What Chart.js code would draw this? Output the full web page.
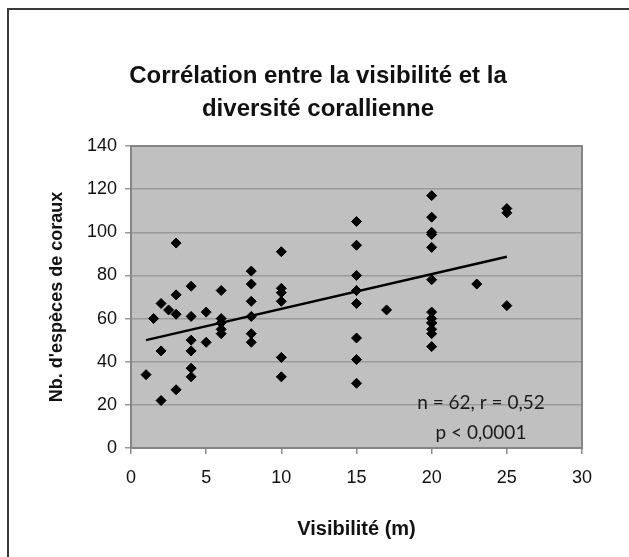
<!DOCTYPE html>
<html>
<head>
<meta charset="utf-8">
<script src="https://cdn.jsdelivr.net/npm/chart.js@4.4.1/dist/chart.umd.min.js"></script>
<style>
html, body { margin: 0; padding: 0; background: #fff; overflow: hidden; }
#wrap { position: relative; width: 629px; height: 557px; }
#frame { position: absolute; left: 7px; top: 8px; width: 700px; height: 700px; border: 2px solid #3a3a3a; }
canvas { position: absolute; left: 0; top: 0; }
</style>
</head>
<body>
<div id="wrap">
  <div id="frame"></div>
  <canvas id="coraux" width="629" height="557"></canvas>
</div>
<script>
// visibilité (m) et nombre d'espèces de coraux par site
const visibility = [
  1, 1.5, 2, 2, 2, 2.5, 3, 3, 3, 3,
  4, 4, 4, 4, 4, 4, 5, 5,
  6, 6, 6, 6, 6,
  8, 8, 8, 8, 8, 8,
  10, 10, 10, 10, 10, 10,
  15, 15, 15, 15, 15, 15, 15, 15, 15,
  17,
  20, 20, 20, 20, 20, 20, 20, 20, 20, 20, 20, 20, 20,
  23,
  25, 25, 25
];
const species = [
  34, 60, 67, 45, 22, 64, 95, 71, 62, 27,
  75, 61, 50, 45, 37, 33, 63, 49,
  73, 60, 58, 55, 53,
  82, 76, 68, 61, 53, 49,
  91, 74, 72, 68, 42, 33,
  105, 94, 80, 73, 73, 67, 51, 41, 30,
  64,
  117, 107, 100, 99, 93, 78, 63, 60, 58, 58, 55, 53, 47,
  76,
  111, 109, 66
];

// droite de tendance
const trendX = [1, 25];
const trendY = [50, 88.7];

const xTicks = [0, 5, 10, 15, 20, 25, 30];
const yTicks = [0, 20, 40, 60, 80, 100, 120, 140];

const statsText = ['n = 62, r = 0,52', 'p < 0,0001'];

const points = visibility.map((v, i) => ({ x: v, y: species[i] }));
const trend = trendX.map((v, i) => ({ x: v, y: trendY[i] }));

const arial = '"Liberation Sans", Arial, sans-serif';

// fond gris et cadre de la zone de tracé
const plotArea = {
  id: 'plotArea',
  beforeDraw(chart) {
    const { ctx, chartArea: a } = chart;
    ctx.save();
    ctx.fillStyle = '#c0c0c0';
    ctx.fillRect(a.left, a.top, a.width, a.height);
    ctx.restore();
  },
  beforeDatasetsDraw(chart) {
    const { ctx, chartArea: a } = chart;
    ctx.save();
    ctx.strokeStyle = '#858585';
    ctx.lineWidth = 2;
    ctx.strokeRect(a.left, a.top, a.width, a.height);
    ctx.restore();
  }
};

// texte n / r / p en bas à droite
const stats = {
  id: 'stats',
  afterDatasetsDraw(chart) {
    const { ctx, chartArea: a } = chart;
    ctx.save();
    ctx.font = '19px Lato, "Open Sans", sans-serif';
    ctx.fillStyle = '#1a1a1a';
    ctx.textAlign = 'center';
    ctx.textBaseline = 'middle';
    statsText.forEach((t, i) => {
      ctx.fillText(t, a.right - 101, a.bottom - 45 + i * 30);
    });
    ctx.restore();
  }
};

const ctx = document.getElementById('coraux').getContext('2d');
new Chart(ctx, {
  type: 'scatter',
  data: {
    datasets: [{
      label: 'Sites',
      data: points,
      pointStyle: 'rectRot',
      pointRadius: 5,
      backgroundColor: '#000',
      borderColor: '#000',
      borderWidth: 1
    }, {
      label: 'Tendance',
      type: 'line',
      data: trend,
      showLine: true,
      borderColor: '#000',
      borderWidth: 2.5,
      pointRadius: 0
    }]
  },
  options: {
    responsive: false,
    animation: false,
    layout: { padding: { left: 54, right: 47, top: 0, bottom: 0 } },
    plugins: {
      legend: { display: false },
      tooltip: { enabled: false },
      title: {
        display: true,
        text: ['Corrélation entre la visibilité et la', 'diversité corallienne'],
        color: '#111',
        font: { family: arial, size: 24, weight: 'bold', lineHeight: 1.375 },
        padding: { top: 60, bottom: 20 }
      }
    },
    scales: {
      x: {
        type: 'linear',
        min: 0,
        max: 30,
        afterBuildTicks: s => { s.ticks = xTicks.map(v => ({ value: v })); },
        afterFit: s => { s.height = 109; },
        border: { display: false },
        grid: { drawOnChartArea: false, drawTicks: true, tickLength: 6, color: '#8a8a8a', lineWidth: 1.5 },
        ticks: {
          color: '#111',
          padding: 13,
          font: { family: arial, size: 18 }
        },
        title: {
          display: true,
          text: 'Visibilité (m)',
          color: '#111',
          font: { family: arial, size: 20, weight: 'bold', lineHeight: 1.2 },
          padding: { top: 0, bottom: 16 }
        }
      },
      y: {
        type: 'linear',
        min: 0,
        max: 140,
        afterBuildTicks: s => { s.ticks = yTicks.map(v => ({ value: v })); },
        afterFit: s => { s.width = 77; },
        border: { display: false },
        grid: { drawTicks: true, tickLength: 6, color: '#9a9a9a', lineWidth: 1.5 },
        ticks: {
          color: '#111',
          padding: 8,
          font: { family: arial, size: 18 }
        },
        title: {
          display: true,
          text: "Nb. d'espèces de coraux",
          color: '#111',
          font: { family: arial, size: 18, weight: 'bold', lineHeight: 1.2 },
          padding: { top: -8, bottom: 0 }
        }
      }
    }
  },
  plugins: [plotArea, stats]
});
</script>
</body>
</html>
